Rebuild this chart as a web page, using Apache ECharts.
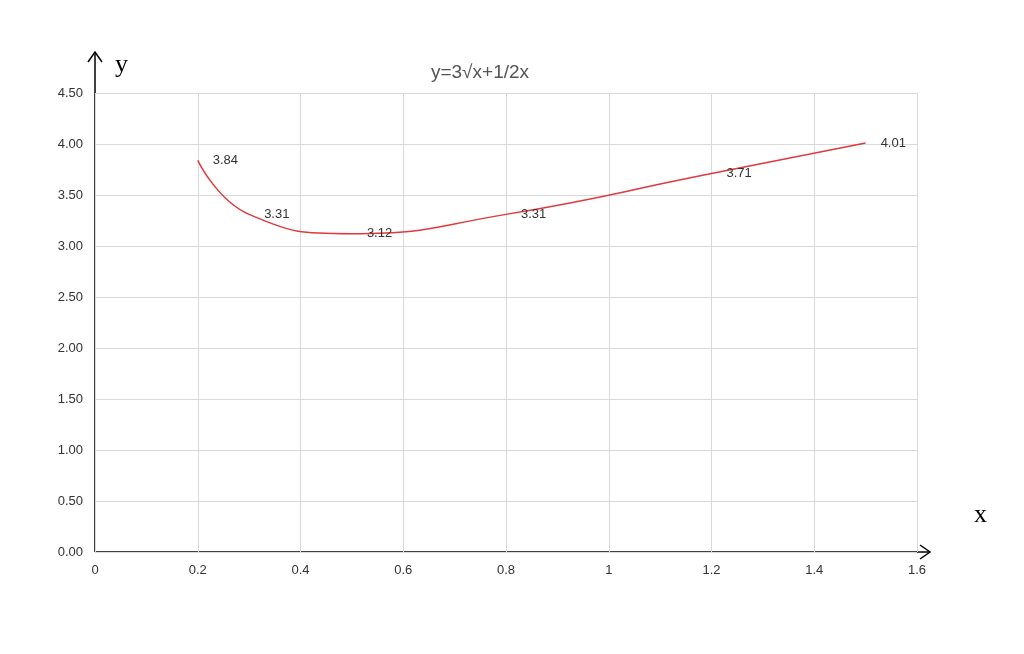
<!DOCTYPE html>
<html><head><meta charset="utf-8">
<script src="https://cdn.jsdelivr.net/npm/echarts@6/dist/echarts.min.js"></script>
<style>html,body{margin:0;background:#fff}#c{width:1024px;height:654px}</style>
</head><body><div id="c"></div>
<script>
const xValues = [0.2, 0.3, 0.5, 0.8, 1.2, 1.5];
const yValues = [3.84, 3.31, 3.12, 3.31, 3.71, 4.01];
const chart = echarts.init(document.getElementById('c'));
const lbl = {fontFamily:'Liberation Sans', fontSize:13, color:'#333'};
chart.setOption({
  animation:false,
  title:{text:'y=3√x+1/2x', left:475, top:58, textAlign:'center',
    textStyle:{fontFamily:'Liberation Sans', fontSize:19, fontWeight:'normal', color:'#555'}},
  grid:{left:95, right:107, top:93, bottom:102},
  xAxis:{type:'value', min:0, max:1.6, interval:0.2,
    axisLine:{show:false}, axisTick:{show:false},
    axisLabel:{...lbl, margin:12, formatter:v=>String(+v.toFixed(1))},
    splitLine:{lineStyle:{color:'#d9d9d9'}}},
  yAxis:{type:'value', min:0, max:4.5, interval:0.5,
    axisLine:{show:false}, axisTick:{show:false},
    axisLabel:{...lbl, margin:12, formatter:v=>v.toFixed(2)},
    splitLine:{lineStyle:{color:'#d9d9d9'}}},
  graphic:[
    {type:'line', shape:{x1:95,y1:552,x2:930,y2:552}, style:{stroke:'#000',lineWidth:1.5}},
    {type:'polyline', shape:{points:[[920,545],[930,552],[920,559]]}, style:{stroke:'#000',fill:null,lineWidth:1.5}},
    {type:'line', shape:{x1:95,y1:552,x2:95,y2:52}, style:{stroke:'#000',lineWidth:1.5}},
    {type:'polyline', shape:{points:[[88,62],[95,52],[102,62]]}, style:{stroke:'#000',fill:null,lineWidth:1.5}},
    {type:'text', left:115, top:52, style:{text:'y', font:'26px "Liberation Serif"', fill:'#000'}},
    {type:'text', left:974, top:502, style:{text:'x', font:'26px "Liberation Serif"', fill:'#000'}}
  ],
  series:[{type:'line', smooth:0.5, symbol:'circle', symbolSize:2, showSymbol:true,
    itemStyle:{color:'rgba(0,0,0,0)'},
    data:xValues.map((x,i)=>[x,yValues[i]]),
    lineStyle:{color:'#e0393e', width:1.5},
    label:{show:true, position:'right', distance:14, ...lbl, formatter:p=>p.value[1].toFixed(2)}}]
});
</script></body></html>
